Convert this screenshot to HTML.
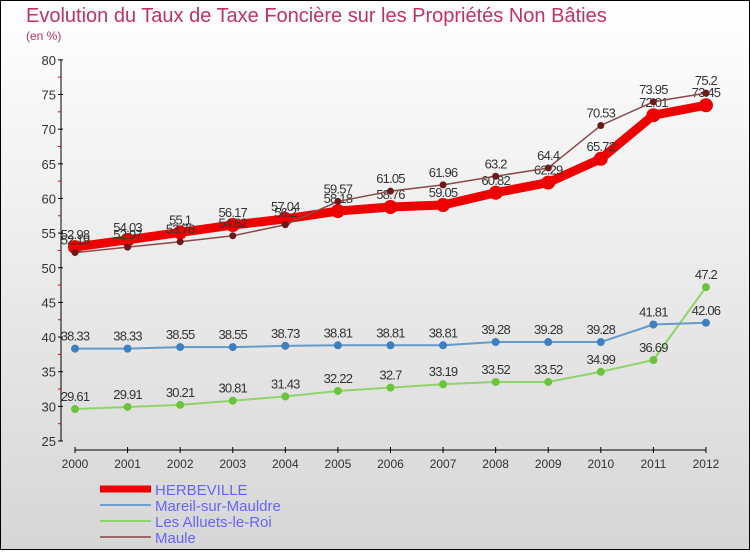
<!DOCTYPE html>
<html><head><meta charset="utf-8"><style>
body{margin:0;width:750px;height:550px;overflow:hidden;font-family:"Liberation Sans",sans-serif}
</style></head><body>
<svg width="750" height="550" xmlns="http://www.w3.org/2000/svg">
<defs><linearGradient id="bg" x1="0" y1="0" x2="0" y2="1"><stop offset="0" stop-color="#ffffff"/><stop offset="1" stop-color="#d6d6d6"/></linearGradient></defs>
<rect x="0.5" y="0.5" width="749" height="549" fill="url(#bg)" stroke="#000"/>
<text x="26" y="22" font-size="20" fill="#c0306a">Evolution du Taux de Taxe Foncière sur les Propriétés Non Bâties</text>
<text x="26" y="40" font-size="12" fill="#c0306a">(en %)</text>
<g id="axes"></g><g id="series"></g><g id="legend"></g>
</svg>
<script>
const years=[2000,2001,2002,2003,2004,2005,2006,2007,2008,2009,2010,2011,2012];
const herbeville=[52.98,54.03,55.1,56.17,57.04,58.18,58.76,59.05,60.82,62.29,65.72,72.01,73.45];
const mareil=[38.33,38.33,38.55,38.55,38.73,38.81,38.81,38.81,39.28,39.28,39.28,41.81,42.06];
const alluets=[29.61,29.91,30.21,30.81,31.43,32.22,32.7,33.19,33.52,33.52,34.99,36.69,47.2];
const maule=[52.19,52.97,53.76,54.62,56.2,59.57,61.05,61.96,63.2,64.4,70.53,73.95,75.2];
const yTicks=[25,30,35,40,45,50,55,60,65,70,75,80];
const NS="http://www.w3.org/2000/svg";
const x=i=>75+i*52.58;
const y=v=>441-(v-25)*6.93;
function mk(p,t,a){const e=document.createElementNS(NS,t);for(const k in a)e.setAttribute(k,a[k]);p.appendChild(e);return e;}
const ax=document.getElementById('axes');
let l=mk(ax,'line',{x1:61,y1:y(80),x2:61,y2:y(25),stroke:'#000'});


l=mk(ax,'line',{x1:75,y1:450,x2:706,y2:450,stroke:'#000'});


yTicks.forEach(v=>{
 mk(ax,'line',{x1:58,y1:y(v),x2:63,y2:y(v),stroke:'#000'});
 if(v<80) mk(ax,'line',{x1:58,y1:y(v+2.5),x2:61,y2:y(v+2.5),stroke:'#e00'});
 const t=mk(ax,'text',{x:56,y:y(v)+5,'font-size':13,'text-anchor':'end',fill:'#333'});t.textContent=v;
 
 
});
years.forEach((yr,i)=>{
 mk(ax,'line',{x1:x(i),y1:447,x2:x(i),y2:453,stroke:'#000'});
 const t=mk(ax,'text',{x:x(i),y:468,'font-size':12,'text-anchor':'middle',fill:'#333'});t.textContent=yr;
 
 
});
const sg=document.getElementById('series');
function series(name,data,color,w,r,dot){
 const g=mk(sg,'g',{});
 
 
 mk(g,'polyline',{points:data.map((v,i)=>x(i)+','+y(v)).join(' '),fill:'none',stroke:color,'stroke-width':w,'stroke-linejoin':'round'});
 data.forEach((v,i)=>{
  const c=mk(g,'circle',{cx:x(i),cy:y(v),r:r,fill:dot});
  
  
  const t=mk(g,'text',{x:x(i),y:y(v)-8,'font-size':13,'text-anchor':'middle',fill:'#333','letter-spacing':'-0.8'});t.textContent=v;
  
  
 });
}
series('alluets',alluets,'#8fd46a',2,4,'#6cc43c');
series('mareil',mareil,'#6699cc',2,4,'#3d7fbf');
series('herbeville',herbeville,'#ee0000',9,7,'#ee0000');
series('maule',maule,'#8a4a4a',1.5,3.5,'#6a1a1a');
const lg=document.getElementById('legend');
[['HERBEVILLE','#ee0000',7],['Mareil-sur-Mauldre','#6f9fcf',2],['Les Alluets-le-Roi','#8fd46a',2],['Maule','#9a6a6a',2]].forEach((d,i)=>{
 const yy=491+i*16;
 const g=mk(lg,'g',{});
 
 
 mk(g,'line',{x1:100,y1:yy-2,x2:151,y2:yy-2,stroke:d[1],'stroke-width':d[2]});
 const t=mk(g,'text',{x:155,y:yy+4,'font-size':15,fill:'#6464ff'});t.textContent=d[0];
});
</script>
</body></html>
